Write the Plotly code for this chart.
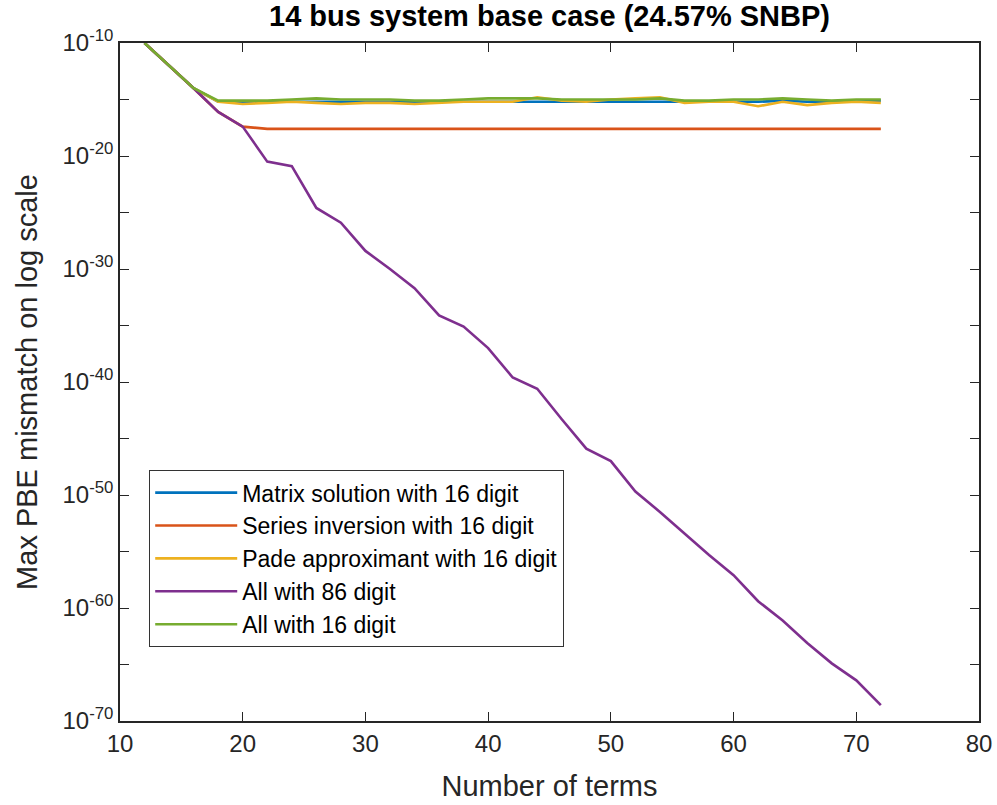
import plotly.graph_objects as go

# Number of terms
terms = list(range(12, 74, 2))

# log10 of max PBE mismatch
matrix_16 = [-10, -12, -14, -15.2, -15.2, -15.2, -15.2, -15.2, -15.2, -15.2, -15.2,
             -15.2, -15.2, -15.25, -15.25, -15.25, -15.25, -15.25, -15.25, -15.25, -15.25,
             -15.2, -15.2, -15.2, -15.2, -15.2, -15.1, -15.2, -15.2, -15.2, -15.1]
series_16 = [-10, -12, -14, -16.1, -17.4, -17.6, -17.6, -17.6, -17.6, -17.6, -17.6,
             -17.6, -17.6, -17.6, -17.6, -17.6, -17.6, -17.6, -17.6, -17.6, -17.6,
             -17.6, -17.6, -17.6, -17.6, -17.6, -17.6, -17.6, -17.6, -17.6, -17.6]
pade_16 = [-10, -12, -14, -15.2, -15.4, -15.3, -15.2, -15.3, -15.4, -15.3, -15.3,
           -15.4, -15.3, -15.2, -15.2, -15.2, -14.8, -15.1, -15.2, -15.0, -14.9,
           -14.8, -15.3, -15.2, -15.2, -15.6, -15.2, -15.5, -15.3, -15.2, -15.3]
all_86 = [-10, -12, -14, -16.1, -17.4, -20.5, -20.9, -24.6, -25.9, -28.4, -30.0,
          -31.7, -34.1, -35.1, -37.0, -39.6, -40.6, -43.3, -45.9, -47.0, -49.7,
          -51.5, -53.4, -55.3, -57.1, -59.4, -61.1, -63.1, -64.9, -66.4, -68.6]
all_16 = [-10, -12, -14, -15.1, -15.1, -15.1, -15.0, -14.9, -15.0, -15.0, -15.0,
          -15.1, -15.1, -15.0, -14.9, -14.9, -14.9, -15.0, -15.0, -15.0, -15.0,
          -14.9, -15.1, -15.1, -15.0, -15.0, -14.9, -15.0, -15.1, -15.0, -15.0]

names = ["Matrix solution with 16 digit", "Series inversion with 16 digit",
         "Pade approximant with 16 digit", "All with 86 digit", "All with 16 digit"]
series = [matrix_16, series_16, pade_16, all_86, all_16]
colors = ["#0072BD", "#D95319", "#EDB120", "#7E2F8E", "#77AC30"]

y_label_exps = list(range(-70, -5, 10))
y_minor_exps = list(range(-65, -10, 10))

FONT = "Liberation Sans, Arial, Helvetica, sans-serif"
AX = "#262626"

fig = go.Figure()
for i, (nm, s, c) in enumerate(zip(names, series, colors)):
    fig.add_trace(go.Scatter(
        x=terms, y=[10 ** e for e in s], mode="lines", name=nm,
        line=dict(color=c, width=2.6), legendgroup=f"g{i}"))

tickvals = [10.0 ** e for e in y_label_exps]
ticktext = [f"10<sup>{e}</sup>" for e in y_label_exps]
minorvals = [10.0 ** e for e in y_minor_exps]

fig.update_layout(
    width=997, height=805,
    margin=dict(l=120, r=18, t=43, b=84, autoexpand=False),
    paper_bgcolor="white", plot_bgcolor="white",
    font=dict(family=FONT, color=AX, size=22),
    title=dict(text="<b>14 bus system base case (24.57% SNBP)</b>",
               x=0.5, xref="paper", xanchor="center",
               y=0.98, yref="container", yanchor="middle", automargin=False,
               font=dict(size=29, color="black", family=FONT)),
    xaxis=dict(range=[10, 80], tickvals=list(range(10, 90, 10)), automargin=False,
               ticks="inside", ticklen=9, tickwidth=1.2, tickcolor=AX,
               showline=True, linecolor=AX, linewidth=1.5, mirror="ticks",
               showgrid=False, zeroline=False,
               tickfont=dict(size=24, color=AX),
               title=dict(text="Number of terms", font=dict(size=29, color=AX), standoff=20)),
    yaxis=dict(type="log", range=[-70, -10], tickvals=tickvals, ticktext=ticktext, automargin=False,
               ticks="inside", ticklen=9, tickwidth=1.2, tickcolor=AX,
               minor=dict(tickvals=minorvals, ticks="inside", ticklen=9, tickwidth=1.2,
                          tickcolor=AX, showgrid=False),
               showline=True, linecolor=AX, linewidth=1.5, mirror="ticks",
               showgrid=False, zeroline=False,
               tickfont=dict(size=24, color=AX),
               title=dict(text="Max PBE mismatch on log scale", font=dict(size=29, color=AX), standoff=16)),
    legend=dict(x=0.034, y=0.37, xanchor="left", yanchor="top",
                bgcolor="white", bordercolor="#333333", borderwidth=1,
                font=dict(size=23, color="black", family=FONT),
                tracegroupgap=0, itemwidth=82),
    showlegend=True,
)

fig.write_html("out.html")
